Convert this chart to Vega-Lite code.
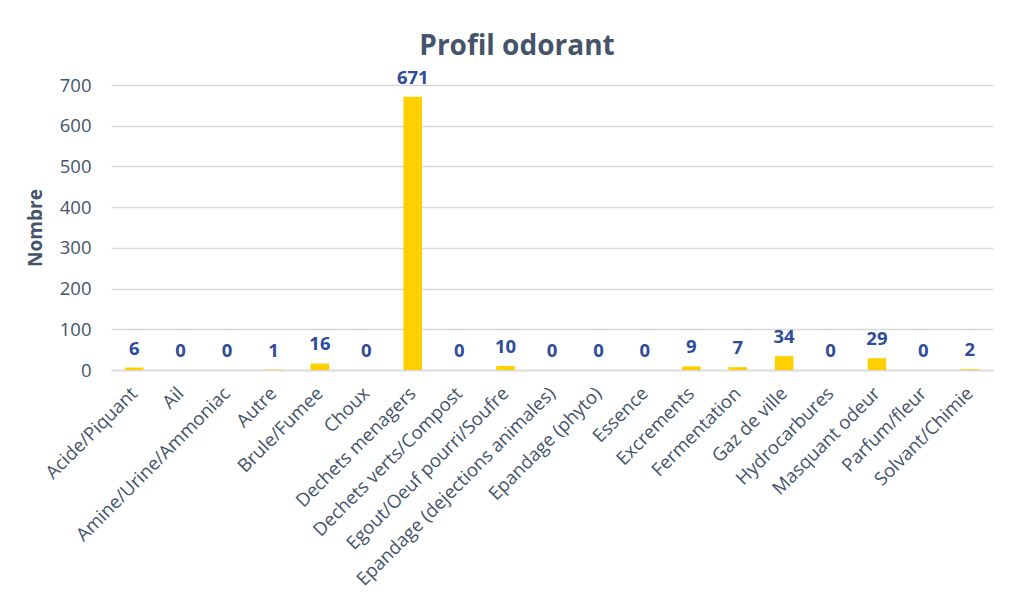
{
  "$schema": "https://vega.github.io/schema/vega-lite/v6.json",
  "autosize": {"type": "none"},
  "width": 882,
  "height": 285,
  "padding": {"left": 111, "top": 85, "right": 25, "bottom": 246},
  "background": "white",
  "title": {
    "text": "Profil odorant",
    "font": "Open Sans",
    "fontSize": 28,
    "fontWeight": "bold",
    "color": "#44546A",
    "anchor": "middle",
    "dx": -35,
    "offset": 8
  },
  "data": {
    "values": [
      {"cat": "Acide/Piquant", "n": 6},
      {"cat": "Ail", "n": 0},
      {"cat": "Amine/Urine/Ammoniac", "n": 0},
      {"cat": "Autre", "n": 1},
      {"cat": "Brule/Fumee", "n": 16},
      {"cat": "Choux", "n": 0},
      {"cat": "Dechets menagers", "n": 671},
      {"cat": "Dechets verts/Compost", "n": 0},
      {"cat": "Egout/Oeuf pourri/Soufre", "n": 10},
      {"cat": "Epandage (dejections animales)", "n": 0},
      {"cat": "Epandage (phyto)", "n": 0},
      {"cat": "Essence", "n": 0},
      {"cat": "Excrements", "n": 9},
      {"cat": "Fermentation", "n": 7},
      {"cat": "Gaz de ville", "n": 34},
      {"cat": "Hydrocarbures", "n": 0},
      {"cat": "Masquant odeur", "n": 29},
      {"cat": "Parfum/fleur", "n": 0},
      {"cat": "Solvant/Chimie", "n": 2}
    ]
  },
  "encoding": {
    "x": {
      "field": "cat",
      "type": "nominal",
      "sort": null,
      "scale": {"paddingInner": 0.6, "paddingOuter": 0.3},
      "axis": {
        "title": null,
        "labelAngle": -45,
        "labelAlign": "right",
        "labelBaseline": "middle",
        "labelPadding": 20,
        "labelFont": "Open Sans",
        "labelFontSize": 18.5,
        "labelColor": "#44546A",
        "ticks": false,
        "domainColor": "#D9D9D9",
        "domainWidth": 1.5,
        "labelOverlap": false,
        "labelLimit": 400
      }
    },
    "y": {
      "field": "n",
      "type": "quantitative",
      "scale": {"domain": [0, 700], "nice": false},
      "axis": {
        "title": "Nombre",
        "titleFont": "Open Sans",
        "titleFontSize": 19,
        "titleFontWeight": "bold",
        "titleColor": "#44546A",
        "titlePadding": 14,
        "values": [0, 100, 200, 300, 400, 500, 600, 700],
        "labelFont": "Open Sans",
        "labelFontSize": 18.5,
        "labelColor": "#44546A",
        "labelPadding": 20,
        "ticks": false,
        "domain": false,
        "gridColor": "#D9D9D9",
        "gridWidth": 1.5
      }
    }
  },
  "layer": [
    {"mark": {"type": "bar", "color": "#FFD000"}},
    {
      "mark": {
        "type": "text",
        "baseline": "alphabetic",
        "dy": -13,
        "font": "Open Sans",
        "fontSize": 18.5,
        "fontWeight": "bold",
        "color": "#2F4B9B"
      },
      "encoding": {"text": {"field": "n", "type": "quantitative"}}
    }
  ],
  "config": {"view": {"stroke": null}}
}
